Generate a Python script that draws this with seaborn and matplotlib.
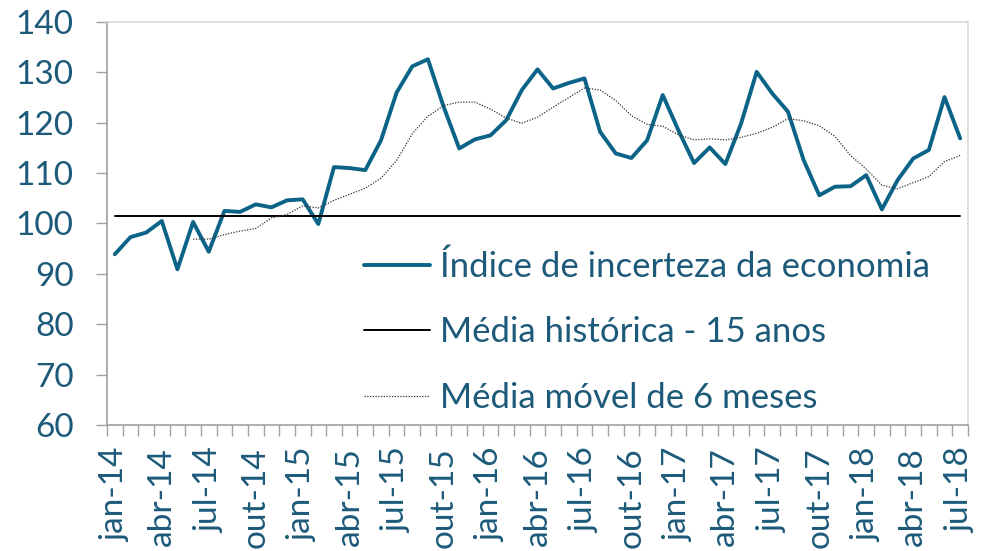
import matplotlib
matplotlib.use("Agg")
import matplotlib.pyplot as plt
from matplotlib.ticker import FixedLocator
import seaborn as sns

# monthly values jan-14 .. jul-18
indice = [93.9, 97.3, 98.2, 100.5, 90.9, 100.3, 94.4, 102.5, 102.3, 103.8,
          103.2, 104.6, 104.8, 99.9, 111.2, 111.0, 110.6, 116.5, 126.0, 131.2,
          132.6, 123.2, 114.9, 116.7, 117.5, 120.5, 126.5, 130.6, 126.8, 127.9,
          128.8, 118.2, 113.9, 113.0, 116.5, 125.5, 118.5, 112.0, 115.1, 111.8,
          119.8, 130.1, 125.8, 122.2, 112.6, 105.6, 107.3, 107.4, 109.6, 102.8,
          108.6, 112.9, 114.6, 125.1, 116.9]

# 6 month moving average, starts in jun-14
media_movel = [96.9, 96.9, 97.8, 98.5, 99.0, 101.1, 101.8, 103.5, 103.1, 104.6,
               105.8, 107.0, 109.0, 112.5, 117.8, 121.3, 123.4, 124.1, 124.1, 122.7,
               120.9, 119.9, 121.1, 123.1, 125.0, 126.9, 126.5, 124.4, 121.4, 119.7,
               119.3, 117.6, 116.6, 116.8, 116.6, 117.1, 117.9, 119.1, 120.8, 120.4,
               119.4, 117.3, 113.5, 110.8, 107.6, 106.9, 108.1, 109.3, 112.3, 113.5]
inicio_movel = 5

media_historica = 101.5

tick_labels = ['jan-14', 'abr-14', 'jul-14', 'out-14', 'jan-15', 'abr-15', 'jul-15',
               'out-15', 'jan-16', 'abr-16', 'jul-16', 'out-16', 'jan-17', 'abr-17',
               'jul-17', 'out-17', 'jan-18', 'abr-18', 'jul-18']

n = len(indice)
x = list(range(n))
x_movel = list(range(inicio_movel, n))

azul = '#0b6487'
texto = '#1d5a7a'

sns.set_style("white")
plt.rcParams['font.family'] = ['Lato', 'DejaVu Sans']

fig = plt.figure(figsize=(9.92, 5.51), dpi=100)
ax = fig.add_axes([107/992, 1-425/551, (968-107)/992, (425-22)/551])

sns.lineplot(x=x, y=indice, ax=ax, color=azul, linewidth=2.8,
             label='Índice de incerteza da economia')
sns.lineplot(x=x, y=[media_historica]*n, ax=ax, color='black', linewidth=1.4,
             label='Média histórica - 15 anos')
sns.lineplot(x=x_movel, y=media_movel, ax=ax, color='#333333', linewidth=0.9,
             linestyle=(0, (1, 1.2)), label='Média móvel de 6 meses')
for l in ax.get_lines():
    l.set_solid_capstyle('round')
    l.set_solid_joinstyle('round')

ax.set_xlim(-0.5, n - 0.5)
ax.set_ylim(60, 140)
ax.set_yticks(range(60, 141, 10))
ax.set_xticks(x[::3])
ax.set_xticklabels(tick_labels, rotation=90)
ax.xaxis.set_minor_locator(FixedLocator([i - 0.5 for i in range(n + 1)]))
ax.tick_params(axis='x', which='major', length=0, pad=16, labelsize=24, labelcolor=texto)
ax.tick_params(axis='x', which='minor', bottom=True, length=8, width=1, color='#a0a0a0')
ax.tick_params(axis='y', left=True, length=8, width=1, color='#a0a0a0',
               labelsize=24, labelcolor=texto, pad=16)
ax.set_xlabel('')
ax.set_ylabel('')

for s in ['left', 'bottom']:
    ax.spines[s].set_color('#a0a0a0')
    ax.spines[s].set_linewidth(1.2)
for s in ['top', 'right']:
    ax.spines[s].set_color('#d9d9d9')
    ax.spines[s].set_linewidth(1.2)

leg = ax.legend(loc='upper left', bbox_to_anchor=(333/992, 1-219/551),
                bbox_transform=fig.transFigure, frameon=False, fontsize=25,
                handlelength=1.9, handletextpad=0.28, labelspacing=0.97)
for t in leg.get_texts():
    t.set_color(texto)

fig.savefig('out.png', dpi=100)
